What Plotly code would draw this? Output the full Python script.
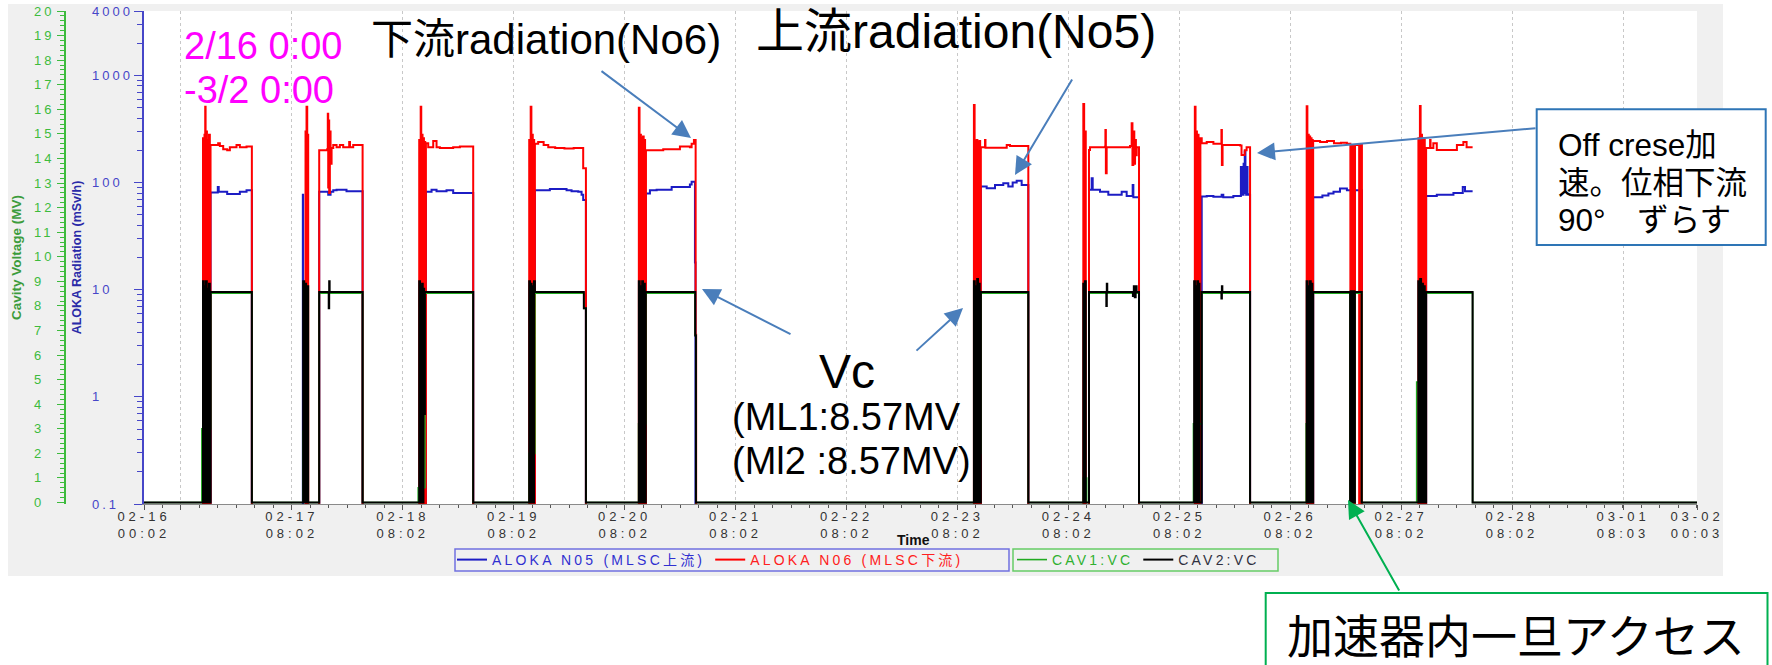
import numpy as np
import pandas as pd
import plotly.graph_objects as go

# ---------------- data (hours since 2023-02-16 00:00) ----------------
T0 = pd.Timestamp("2023-02-16 00:00")
X_START = "2023-02-16 00:02"
X_END = "2023-03-02 00:03"

# ALOKA N06 (downstream radiation, mSv/h); 0.05 = below range (off)
n06_hours = [0,
    12.80, 12.98, 13.12, 13.28, 13.36, 13.50, 13.65, 13.80, 13.95, 14.10, 14.28, 14.43, 16.08, 16.45, 17.17, 18.03, 18.61, 20.05, 20.77, 22.22, 23.37,
    34.98, 35.10, 35.20, 35.35, 35.45, 35.56, 37.94, 39.67, 39.80, 39.89, 40.00, 40.10, 40.25, 40.40, 40.62, 40.98, 41.70, 42.41, 43.13, 44.43, 44.60, 45.30, 47.33,
    59.58, 59.75, 59.90, 60.02, 60.15, 60.30, 60.45, 60.60, 60.75, 60.88, 61.03, 61.53, 62.61, 63.33, 64.05, 66.93, 68.38, 71.26,
    83.38, 83.55, 83.70, 83.85, 84.00, 84.15, 84.30, 84.45, 84.61, 85.32, 86.50, 87.50, 89.00, 91.00, 93.00, 95.06, 95.65,
    107.10, 107.25, 107.40, 107.55, 107.70, 107.85, 108.00, 108.15, 108.30, 108.45, 108.64, 112.38, 115.99, 118.15, 118.52, 119.02, 119.39, 119.50,
    179.60, 179.75, 179.90, 180.05, 180.20, 180.35, 180.50, 180.65, 180.80, 180.95, 181.10, 182.00, 182.10, 186.70, 187.40, 191.37,
    203.27, 203.45, 203.62, 203.80, 204.50, 204.72, 207.97, 208.05, 208.15, 208.32, 213.37, 213.73, 213.90, 214.09, 214.30, 214.46, 214.65, 214.82, 215.32,
    227.40, 227.55, 227.70, 227.85, 228.00, 228.20, 228.60, 228.89, 229.97, 231.41, 233.15, 233.25, 233.40, 237.20, 237.50, 238.20, 238.60, 239.35,
    251.60, 251.75, 251.90, 252.05, 252.20, 252.35, 252.50, 252.65, 252.80, 252.92, 253.00, 254.50, 256.00, 257.50, 259.00, 260.30, 261.05, 261.20, 261.35, 261.50, 261.65, 261.80, 261.95, 262.05, 262.95, 263.10, 263.25, 263.40, 263.55,
    275.77, 275.95, 276.10, 276.25, 276.40, 276.55, 276.70, 276.85, 277.00, 277.15, 277.44, 278.30, 278.40, 279.00, 279.75, 284.10, 285.50, 286.20, 287.50]
n06_vals = [0.05,
    260, 0.05, 280, 510, 0.05, 300, 0.05, 250, 0.05, 280, 0.05, 225, 233, 220, 205, 200, 214, 225, 214, 217, 0.05,
    300, 0.05, 510, 0.05, 280, 0.05, 200, 205, 440, 90, 380, 80, 300, 150, 210, 225, 214, 225, 214, 240, 214, 225, 0.05,
    250, 0.05, 510, 0.05, 280, 0.05, 260, 0.05, 240, 0.05, 233, 214, 245, 214, 210, 214, 217, 0.05,
    250, 0.05, 510, 0.05, 280, 0.05, 250, 0.05, 230, 240, 225, 214, 210, 208, 210, 136, 0.05,
    500, 0.05, 280, 0.05, 260, 0.05, 270, 0.05, 250, 0.05, 200, 205, 217, 214, 230, 250, 3.8, 0.05,
    530, 0.05, 245, 0.05, 250, 0.05, 240, 0.05, 245, 0.05, 214, 250, 212, 225, 220, 0.05,
    543, 0.05, 300, 0.05, 202, 214, 216, 310, 122, 214, 220, 358, 146, 300, 150, 250, 180, 214, 0.05,
    510, 0.05, 300, 0.05, 280, 0.05, 260, 233, 240, 230, 310, 146, 225, 222, 181, 200, 214, 0.05,
    515, 0.05, 280, 0.05, 270, 0.05, 260, 0.05, 250, 0.05, 245, 240, 245, 233, 235, 230, 0.05, 225, 0.05, 225, 0.05, 225, 0.05, 225, 0.05, 225, 0.05, 225, 0.05,
    260, 0.05, 520, 0.05, 280, 0.05, 260, 0.05, 250, 0.05, 210, 250, 210, 233, 202, 225, 240, 214, 214]

# ALOKA N05 (upstream radiation, mSv/h)
n05_hours = [0,
    14.43, 16.00, 16.20, 18.03, 20.77, 22.22, 23.37,
    34.40, 34.47, 37.94, 39.89, 40.40, 40.98, 41.70, 43.85, 47.33,
    61.03, 62.25, 63.33, 65.49, 66.93, 71.26,
    84.61, 87.85, 91.46, 92.54, 93.99, 94.71, 95.06, 95.65,
    108.64, 109.50, 110.95, 114.20, 118.15, 118.52, 119.24, 119.35,
    181.10, 182.36, 184.16, 185.95, 187.04, 187.98, 188.85, 189.93, 191.37,
    204.50, 205.08, 205.30, 206.88, 208.68, 211.57, 212.65, 213.95, 214.10, 215.32,
    228.89, 229.97, 231.41, 233.20, 233.56, 235.73, 237.36, 237.50, 237.65, 237.80, 237.95, 238.10, 238.20, 238.35, 238.50, 238.65, 238.80, 238.98, 239.35,
    253.00, 255.00, 256.30, 257.40, 258.80, 260.30, 263.55,
    277.44, 279.75, 283.35, 285.37, 285.86, 287.50]
n05_vals = [0.05,
    81, 91, 82, 78.5, 82, 85, 0.05,
    77, 0.05, 82, 77, 82, 85, 86, 83, 0.05,
    82, 86, 83, 85, 80, 0.05,
    85, 87, 85, 83, 82, 77, 69, 0.05,
    79, 85, 86, 91, 96, 102, 18, 0.05,
    92, 88.6, 95, 98.6, 92, 100, 104, 95, 0.05,
    86, 110, 86, 82, 77, 82, 75, 95, 73, 0.05,
    74.4, 75, 74, 77, 73, 75, 140, 77, 140, 77, 150, 80, 195, 140, 77, 140, 78, 77, 0.05,
    73, 76, 79, 82, 88, 85, 0.05,
    75, 77, 80, 91, 83, 83]

# CAV1:VC (MV)
cav1_hours = [0,
    12.55, 14.45, 23.37,
    34.45, 35.56, 37.94, 47.33,
    59.36, 60.81, 71.26,
    83.38, 84.61, 95.20, 95.65,
    107.05, 108.60, 119.30, 119.45,
    179.60, 181.10, 191.37,
    203.27, 204.00, 204.50, 215.32,
    227.10, 228.89, 239.35,
    251.50, 253.00, 261.00, 262.02, 263.50,
    275.40, 277.44, 287.50, 336.05]
cav1_vals = [0,
    3.0, 8.52, 0,
    2.9, 0, 8.52, 0,
    0.6, 8.52, 0,
    2.0, 8.52, 7.9, 0,
    3.2, 8.52, 6.8, 0,
    2.0, 8.52, 0,
    1.0, 0, 8.52, 0,
    3.2, 8.52, 0,
    3.2, 8.52, 0, 8.52, 0,
    4.9, 8.52, 0, 0]

# CAV2:VC (MV)
cav2_hours = [0,
    12.80, 12.98, 13.12, 13.30, 13.45, 13.62, 13.78, 13.95, 14.10, 14.28, 14.45, 23.37,
    34.47, 34.70, 34.90, 35.10, 35.30, 35.56, 37.94, 40.00, 40.10, 40.20, 47.33,
    59.58, 59.75, 59.90, 60.05, 60.20, 60.35, 60.50, 60.65, 60.81, 71.26,
    83.38, 83.55, 83.70, 83.90, 84.05, 84.25, 84.42, 84.61, 95.20, 95.65,
    107.10, 107.28, 107.45, 107.65, 107.82, 108.00, 108.20, 108.40, 108.60, 119.30, 119.45,
    179.60, 179.78, 179.95, 180.12, 180.30, 180.48, 180.65, 180.85, 181.10, 191.37,
    203.27, 203.45, 203.62, 203.80, 204.50, 208.25, 208.35, 208.45, 214.00, 214.20, 214.40, 214.60, 214.80, 215.32,
    227.25, 227.42, 227.58, 227.75, 227.92, 228.10, 228.25, 228.40, 228.89, 233.15, 233.25, 233.35, 239.35,
    251.60, 251.78, 251.95, 252.12, 252.30, 252.48, 252.65, 252.82, 253.00, 261.00, 261.15, 261.30, 261.45, 261.60, 261.75, 261.90, 262.02, 263.50,
    275.75, 275.95, 276.15, 276.35, 276.55, 276.75, 276.95, 277.15, 277.44, 287.50, 336.05]
cav2_vals = [0,
    9.0, 0, 8.8, 0, 9.0, 0, 8.7, 0, 8.9, 0, 8.57, 0,
    9.0, 0, 8.9, 0, 8.8, 0, 8.57, 7.9, 9.0, 8.57, 0,
    9.0, 0, 8.8, 0, 8.9, 0, 8.7, 3.6, 8.57, 0,
    9.0, 0, 8.9, 0, 8.8, 0, 9.0, 8.57, 7.9, 0,
    9.0, 0, 8.8, 0, 9.0, 0, 8.9, 0, 8.57, 6.8, 0,
    9.0, 0, 8.8, 0, 9.1, 0, 8.9, 0, 8.57, 0,
    8.9, 0, 9.0, 0, 8.57, 8.0, 8.9, 8.57, 8.4, 8.8, 8.35, 8.8, 8.57, 0,
    9.0, 0, 8.8, 0, 9.0, 0, 8.9, 0, 8.57, 8.3, 8.8, 8.57, 0,
    9.0, 0, 8.8, 0, 9.0, 0, 8.9, 0, 8.57, 0, 8.6, 0, 8.6, 0, 8.6, 0, 8.57, 0,
    9.0, 0, 9.1, 0, 8.9, 0, 8.8, 0, 8.57, 0, 0]

# tick labels
x_tick_times = ["2023-02-16 00:02", "2023-02-16 08:02", "2023-02-17 08:02", "2023-02-18 08:02",
                "2023-02-19 08:02", "2023-02-20 08:02", "2023-02-21 08:02", "2023-02-22 08:02",
                "2023-02-23 08:02", "2023-02-24 08:02", "2023-02-25 08:02", "2023-02-26 08:02",
                "2023-02-27 08:02", "2023-02-28 08:02", "2023-03-01 08:03", "2023-03-02 00:03"]
x_tick_date = ["02-16", "", "02-17", "02-18", "02-19", "02-20", "02-21", "02-22",
               "02-23", "02-24", "02-25", "02-26", "02-27", "02-28", "03-01", "03-02"]
x_tick_clock = ["00:02", "", "08:02", "08:02", "08:02", "08:02", "08:02", "08:02",
                "08:02", "08:02", "08:02", "08:02", "08:02", "08:02", "08:03", "00:03"]
rad_ticks = [0.1, 1, 10, 100, 1000, 4000]
rad_tick_labels = ["0.1", "1", "10", "100", "1000", "4000"]
rad_minor = [0.2, 0.3, 0.4, 0.5, 0.6, 0.7, 0.8, 0.9, 2, 3, 4, 5, 6, 7, 8, 9,
             20, 30, 40, 50, 60, 70, 80, 90, 200, 300, 400, 500, 600, 700, 800, 900, 2000, 3000]
volt_ticks = list(range(0, 21))

# ---------------- layout helpers ----------------
W, H = 1772, 665
ML, MR, MT, MB = 60, 75, 11, 161
PW, PH = W - ML - MR, H - MT - MB


def px(x):
    return (x - ML) / PW


def py(y):
    return (H - MB - y) / PH


def sp(s, n):
    return f"<span style='letter-spacing:{n}px'>{s}</span>" if s else ""


def to_time(h):
    return T0 + pd.to_timedelta(np.asarray(h, dtype=float), unit="h")


FONT = "Liberation Sans, Arial, Noto Sans CJK JP, sans-serif"
BLUE_AX = "#4646c8"
GREEN_AX = "#3dbb3d"

fig = go.Figure()
fig.add_trace(go.Scatter(x=to_time(n05_hours), y=n05_vals, mode="lines", line=dict(color="#1c1cc4", width=2, shape="hv"),
                         name=sp("<span style='color:#3030d0'>ALOKA N05 (MLSC上流)</span>", 3.2), legend="legend", yaxis="y"))
fig.add_trace(go.Scatter(x=to_time(n06_hours), y=n06_vals, mode="lines", line=dict(color="#ff0000", width=2, shape="hv"),
                         name=sp("<span style='color:#ff2020'>ALOKA N06 (MLSC下流)</span>", 3.2), legend="legend", yaxis="y"))
fig.add_trace(go.Scatter(x=to_time(cav1_hours), y=cav1_vals, mode="lines", line=dict(color="#22aa22", width=1.6, shape="hv"),
                         name=sp("<span style='color:#30b030'>CAV1:VC</span>", 3.2), legend="legend2", yaxis="y2"))
fig.add_trace(go.Scatter(x=to_time(cav2_hours), y=cav2_vals, mode="lines", line=dict(color="#000000", width=2, shape="hv"),
                         name=sp("<span style='color:#303040'>CAV2:VC</span>", 3.2), legend="legend2", yaxis="y2"))

x_ticktext = [f"{sp(a, 4)}<br>{sp(b, 4)}" if a else "" for a, b in zip(x_tick_date, x_tick_clock)]

fig.update_layout(
    width=W, height=H, margin=dict(l=ML, r=MR, t=MT, b=MB),
    paper_bgcolor="white", plot_bgcolor="white",
    font=dict(family=FONT, color="#333333", size=12),
    xaxis=dict(type="date", range=[X_START, X_END], domain=[px(144), 1.0], anchor="y",
               showline=True, linecolor="#8a8a8a", linewidth=1, mirror=False,
               ticks="outside", ticklen=5, tickcolor="#555555",
               tickmode="array", tickvals=x_tick_times, ticktext=x_ticktext,
               tickfont=dict(size=13, color="#333333"), ticklabelstandoff=-5,
               showgrid=True, gridcolor="#c8c8c8", griddash="dot", gridwidth=1, zeroline=False,
               minor=dict(ticks="outside", ticklen=3, tickcolor="#555555", tickmode="linear",
                          tick0=X_START, dtick=4 * 3600 * 1000, showgrid=False)),
    yaxis=dict(type="log", range=[np.log10(0.1), np.log10(4000)], domain=[0, 1], anchor="x",
               showline=True, linecolor=BLUE_AX, linewidth=2,
               ticks="outside", ticklen=8, tickcolor=BLUE_AX, tickwidth=1,
               tickmode="array", tickvals=rad_ticks, showticklabels=False,
               minor=dict(ticks="outside", ticklen=5, tickcolor=BLUE_AX, tickmode="array", tickvals=rad_minor),
               showgrid=False, zeroline=False,
               title=dict(text="ALOKA Radiation (mSv/h)", standoff=50,
                          font=dict(size=12.5, color="#2a2aa8", weight="bold"))),
    yaxis2=dict(range=[-0.06, 20], overlaying="y", side="left", anchor="free", position=px(65),
                showline=True, linecolor=GREEN_AX, linewidth=2,
                ticks="outside", ticklen=7, tickcolor=GREEN_AX,
                tickmode="array", tickvals=volt_ticks, showticklabels=False,
                minor=dict(ticks="outside", ticklen=4, tickcolor=GREEN_AX, dtick=0.2, tick0=0),
                showgrid=False, zeroline=False,
                title=dict(text="Cavity Voltage (MV)", standoff=31,
                           font=dict(size=13.5, color="#3c9c3c", weight="bold"))),
    legend=dict(x=px(452), y=py(560), xanchor="left", yanchor="middle", orientation="h",
                borderwidth=0, bgcolor="rgba(0,0,0,0)",
                font=dict(size=14, family=FONT), itemwidth=30),
    legend2=dict(x=px(1012), y=py(560), xanchor="left", yanchor="middle", orientation="h",
                 borderwidth=0, bgcolor="rgba(0,0,0,0)",
                 font=dict(size=14, family=FONT), itemwidth=30),
)

shapes = [
    dict(type="rect", xref="paper", yref="paper", x0=px(8), x1=px(1723), y0=py(576), y1=py(4),
         fillcolor="#f0f0f0", line=dict(width=0), layer="below"),
    dict(type="rect", xref="paper", yref="paper", x0=px(144), x1=1.0, y0=0, y1=1,
         fillcolor="white", line=dict(width=0), layer="below"),
    # legend frames
    dict(type="rect", xref="paper", yref="paper", x0=px(455), x1=px(1009), y0=py(571), y1=py(549),
         line=dict(color="#7070e0", width=1.5), layer="above"),
    dict(type="rect", xref="paper", yref="paper", x0=px(1013), x1=px(1278), y0=py(571), y1=py(549),
         line=dict(color="#66cc66", width=1.5), layer="above"),
    # callout boxes
    dict(type="rect", xref="paper", yref="paper", x0=px(1536.7), x1=px(1765.7), y0=py(245), y1=py(109.3),
         fillcolor="white", line=dict(color="#2e75b6", width=2), layer="above"),
    dict(type="rect", xref="paper", yref="paper", x0=px(1265.7), x1=px(1767.5), y0=py(668), y1=py(593),
         fillcolor="white", line=dict(color="#00b050", width=2), layer="above"),
]
fig.update_layout(shapes=shapes)

ann = []
# axis tick labels (left aligned, as in the reference)
for v, t in zip(rad_ticks, rad_tick_labels):
    ann.append(dict(x=px(90), y=np.log10(v), xref="paper", yref="y", text=sp(t, 3), showarrow=False,
                    xanchor="left", yanchor="middle", font=dict(size=13, color=BLUE_AX)))
for v in volt_ticks:
    ann.append(dict(x=px(32), y=v, xref="paper", yref="y2", text=sp(str(v), 3), showarrow=False,
                    xanchor="left", yanchor="middle", font=dict(size=13, color=GREEN_AX)))


def label(x, y, text, size, color="black", xanchor="center", weight="normal"):
    ann.append(dict(x=px(x), y=py(y), xref="paper", yref="paper", text=text, showarrow=False,
                    xanchor=xanchor, yanchor="middle",
                    font=dict(size=size, color=color, family=FONT, weight=weight)))


def arrow(x0, y0, x1, y1, color="#4a7ebb"):
    ann.append(dict(x=px(x1), y=py(y1), xref="paper", yref="paper", ax=x0 - x1, ay=y0 - y1,
                    axref="pixel", ayref="pixel", text="", showarrow=True, arrowhead=2,
                    arrowsize=1.8, arrowwidth=2, arrowcolor=color))


label(913, 540, "Time", 14, "#111111", weight="bold")
label(182, 46, "2/16 0:00", 38, "#ff00ff", "left")
label(182, 90, "-3/2 0:00", 38, "#ff00ff", "left")
label(546, 39, "下流radiation(No6)", 42)
label(956, 31, "上流radiation(No5)", 48)
label(847, 371, "Vc", 48)
label(730, 417, "(ML1:8.57MV", 38, xanchor="left")
label(730, 461, "(Ml2 :8.57MV)", 38, xanchor="left")
label(1556, 145, "Off crese加", 31.5, xanchor="left")
label(1556, 183, "速。位相下流", 31.5, xanchor="left")
label(1556, 220, "90°　ずらす", 31.5, xanchor="left")
label(1516, 637, "加速器内一旦アクセス", 46)

arrow(600, 70, 691, 138)
arrow(1073, 78, 1015, 175)
arrow(1537, 128, 1257, 153)
arrow(792, 335, 702, 289)
arrow(915, 352, 963, 308)
arrow(1400, 592, 1348, 500, "#00b050")

fig.update_layout(annotations=ann)

fig.write_html("out.html", config={"displayModeBar": False},
               post_script="document.body.style.margin='0px';document.body.style.overflow='hidden';")
